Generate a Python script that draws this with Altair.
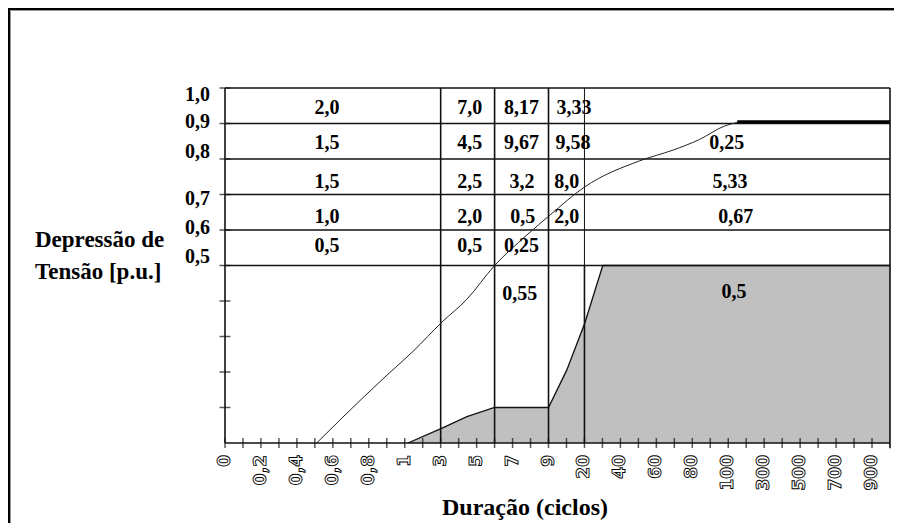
import altair as alt
import pandas as pd

# ---------------- data ----------------
x_labels = ["0", "0,2", "0,4", "0,6", "0,8", "1", "3", "5", "7", "9",
            "20", "40", "60", "80", "100", "300", "500", "700", "900"]
x_label_pos = list(range(19))
x_minor_ticks = [i * 0.5 for i in range(37)]

y_labels = ["1,0", "0,9", "0,8", "0,7", "0,6", "0,5"]
y_label_pos = [0.98, 0.904, 0.82, 0.687, 0.606, 0.524]
y_ticks = [0.1, 0.2, 0.3, 0.4, 0.5, 0.6, 0.7, 0.8, 0.9, 1.0]

row_lines = [0.5, 0.6, 0.7, 0.8, 0.9, 1.0]
col_lines = [6, 7.5, 9]

cell_text = ["2,0", "7,0", "8,17", "3,33",
             "1,5", "4,5", "9,67", "9,58", "0,25",
             "1,5", "2,5", "3,2", "8,0", "5,33",
             "1,0", "2,0", "0,5", "2,0", "0,67",
             "0,5", "0,5", "0,25",
             "0,55", "0,5"]
cell_x = [2.84, 6.81, 8.25, 9.71,
          2.84, 6.81, 8.25, 9.68, 13.96,
          2.84, 6.81, 8.26, 9.51, 14.05,
          2.84, 6.81, 8.28, 9.51, 14.21,
          2.84, 6.81, 8.25,
          8.2, 14.16]
cell_y = [0.944] * 4 + [0.846] * 5 + [0.735] * 5 + [0.637] * 5 + [0.555] * 3 + [0.42, 0.425]

upper_x = [2.55, 3.28, 4.45, 5.23, 6.04, 6.73, 7.5, 8.4, 9.04, 10.0, 11.54, 12.46, 13.2, 13.9, 14.25]
upper_y = [0.0, 0.073, 0.186, 0.258, 0.341, 0.405, 0.5, 0.586, 0.642, 0.721, 0.795, 0.825, 0.855, 0.893, 0.903]
thick_x = [14.25, 18.5]
thick_y = [0.905, 0.905]

lower_x = [5.09, 6.04, 6.73, 7.5, 9.0, 9.51, 10.01, 10.51, 18.5]
lower_y = [0.0, 0.042, 0.074, 0.1, 0.1, 0.206, 0.338, 0.5, 0.5]

X_MAX = 18.5

# ---------------- chart ----------------
xs = alt.Scale(domain=[0, X_MAX], nice=False, zero=False)
ys = alt.Scale(domain=[0, 1], nice=False, zero=False)


def X(f):
    return alt.X(f, type="quantitative", scale=xs, axis=None)


def Y(f):
    return alt.Y(f, type="quantitative", scale=ys, axis=None)


SERIF = "Liberation Serif"

area = alt.Chart(pd.DataFrame({"x": lower_x, "y": lower_y})).mark_area(
    color="#c0c0c0", opacity=1
).encode(x=X("x"), y=Y("y"))

area_edge = alt.Chart(pd.DataFrame({"x": lower_x, "y": lower_y})).mark_line(
    color="#111", strokeWidth=1.3
).encode(x=X("x"), y=Y("y"))

hl = alt.Chart(pd.DataFrame({"y": row_lines, "x0": [0] * 6, "x1": [X_MAX] * 6})).mark_rule(
    color="#111", strokeWidth=1.6
).encode(x=X("x0"), x2="x1", y=Y("y"))

vl = alt.Chart(pd.DataFrame({"x": col_lines, "y0": [0] * 3, "y1": [1] * 3})).mark_rule(
    color="#111", strokeWidth=1.6
).encode(x=X("x"), y=Y("y0"), y2="y1")

vl20 = alt.Chart(pd.DataFrame({"x": [10, 10], "y0": [0, 0.5], "y1": [0.5, 1.0], "w": [1.6, 1.0]})).mark_rule(
    color="#111"
).encode(x=X("x"), y=Y("y0"), y2="y1", strokeWidth=alt.StrokeWidth("w:Q", scale=None, legend=None))

frame = alt.Chart(pd.DataFrame({"x": [0, X_MAX], "y0": [0, -0.015], "y1": [1, 1]})).mark_rule(
    color="#111", strokeWidth=1.6
).encode(x=X("x"), y=Y("y0"), y2="y1")

baseline = alt.Chart(pd.DataFrame({"y": [0], "x0": [0], "x1": [X_MAX]})).mark_rule(
    color="#111", strokeWidth=1.6
).encode(x=X("x0"), x2="x1", y=Y("y"))

xt = alt.Chart(pd.DataFrame({"x": x_minor_ticks, "y": [0] * len(x_minor_ticks)})).mark_tick(
    orient="vertical", size=10, thickness=1.5, color="#111"
).encode(x=X("x"), y=Y("y"))

yt = alt.Chart(pd.DataFrame({"y": y_ticks, "x": [0] * len(y_ticks)})).mark_tick(
    orient="horizontal", size=11, thickness=1.5, color="#111"
).encode(x=X("x"), y=Y("y"))

upper = alt.Chart(pd.DataFrame({"x": upper_x, "y": upper_y})).mark_line(
    color="#222", strokeWidth=1, interpolate="monotone"
).encode(x=X("x"), y=Y("y"))

thick = alt.Chart(pd.DataFrame({"x": thick_x, "y": thick_y})).mark_line(
    color="#000", strokeWidth=3
).encode(x=X("x"), y=Y("y"))

cells = alt.Chart(pd.DataFrame({"x": cell_x, "y": cell_y, "t": cell_text})).mark_text(
    font=SERIF, fontWeight="bold", fontSize=20, color="#000", align="center", baseline="middle"
).encode(x=X("x"), y=Y("y"), text="t:N")

ylab = alt.Chart(pd.DataFrame({"y": y_label_pos, "t": y_labels})).mark_text(
    font=SERIF, fontWeight="bold", fontSize=20, color="#000", align="right", baseline="middle"
).encode(x=alt.value(-15), y=Y("y"), text="t:N")

xlab = alt.Chart(pd.DataFrame({"x": x_label_pos, "t": x_labels})).mark_text(
    font="DejaVu Sans", fontWeight="bold", fontSize=17, angle=270, align="right", baseline="middle",
    fill="#ffffff", stroke="#000000", strokeWidth=0.9
).encode(x=X("x"), y=alt.value(367), text="t:N")

titles = alt.Chart(pd.DataFrame({
    "t": ["Depressão de", "Tensão [p.u.]"],
    "py": [159, 191],
})).mark_text(
    font=SERIF, fontWeight="bold", fontSize=23, color="#000", align="left", baseline="alphabetic"
).encode(x=alt.value(-190), y=alt.Y("py:Q", scale=None, axis=None), text="t:N")

xtitle = alt.Chart(pd.DataFrame({"t": ["Duração (ciclos)"]})).mark_text(
    font=SERIF, fontWeight="bold", fontSize=24, color="#000", align="center", baseline="alphabetic"
).encode(x=alt.value(300), y=alt.value(427), text="t:N")

one = pd.DataFrame({"k": [0]})
border_top = alt.Chart(one).mark_rule(color="#000", strokeWidth=2).encode(
    x=alt.value(-217), x2=alt.value(700), y=alt.value(-79))
border_top2 = alt.Chart(one).mark_rule(color="#9a9a9a", strokeWidth=1).encode(
    x=alt.value(-215), x2=alt.value(700), y=alt.value(-77.5))
border_left = alt.Chart(one).mark_rule(color="#000", strokeWidth=2).encode(
    x=alt.value(-216), y=alt.value(-80), y2=alt.value(460))
border_left2 = alt.Chart(one).mark_rule(color="#9a9a9a", strokeWidth=1).encode(
    x=alt.value(-214.5), y=alt.value(-78), y2=alt.value(460))

chart = alt.layer(
    area, area_edge, hl, vl, vl20, frame, baseline, xt, yt, upper, thick,
    cells, ylab, xlab, titles, xtitle,
    border_top, border_top2, border_left, border_left2,
).properties(
    width=665, height=355,
    padding={"left": 217, "top": 80, "right": 4, "bottom": 80},
    autosize=alt.AutoSizeParams(type="none"),
    background="white",
).configure_view(stroke=None)

chart.save("out.html", embed_options={"renderer": "svg", "actions": False})
